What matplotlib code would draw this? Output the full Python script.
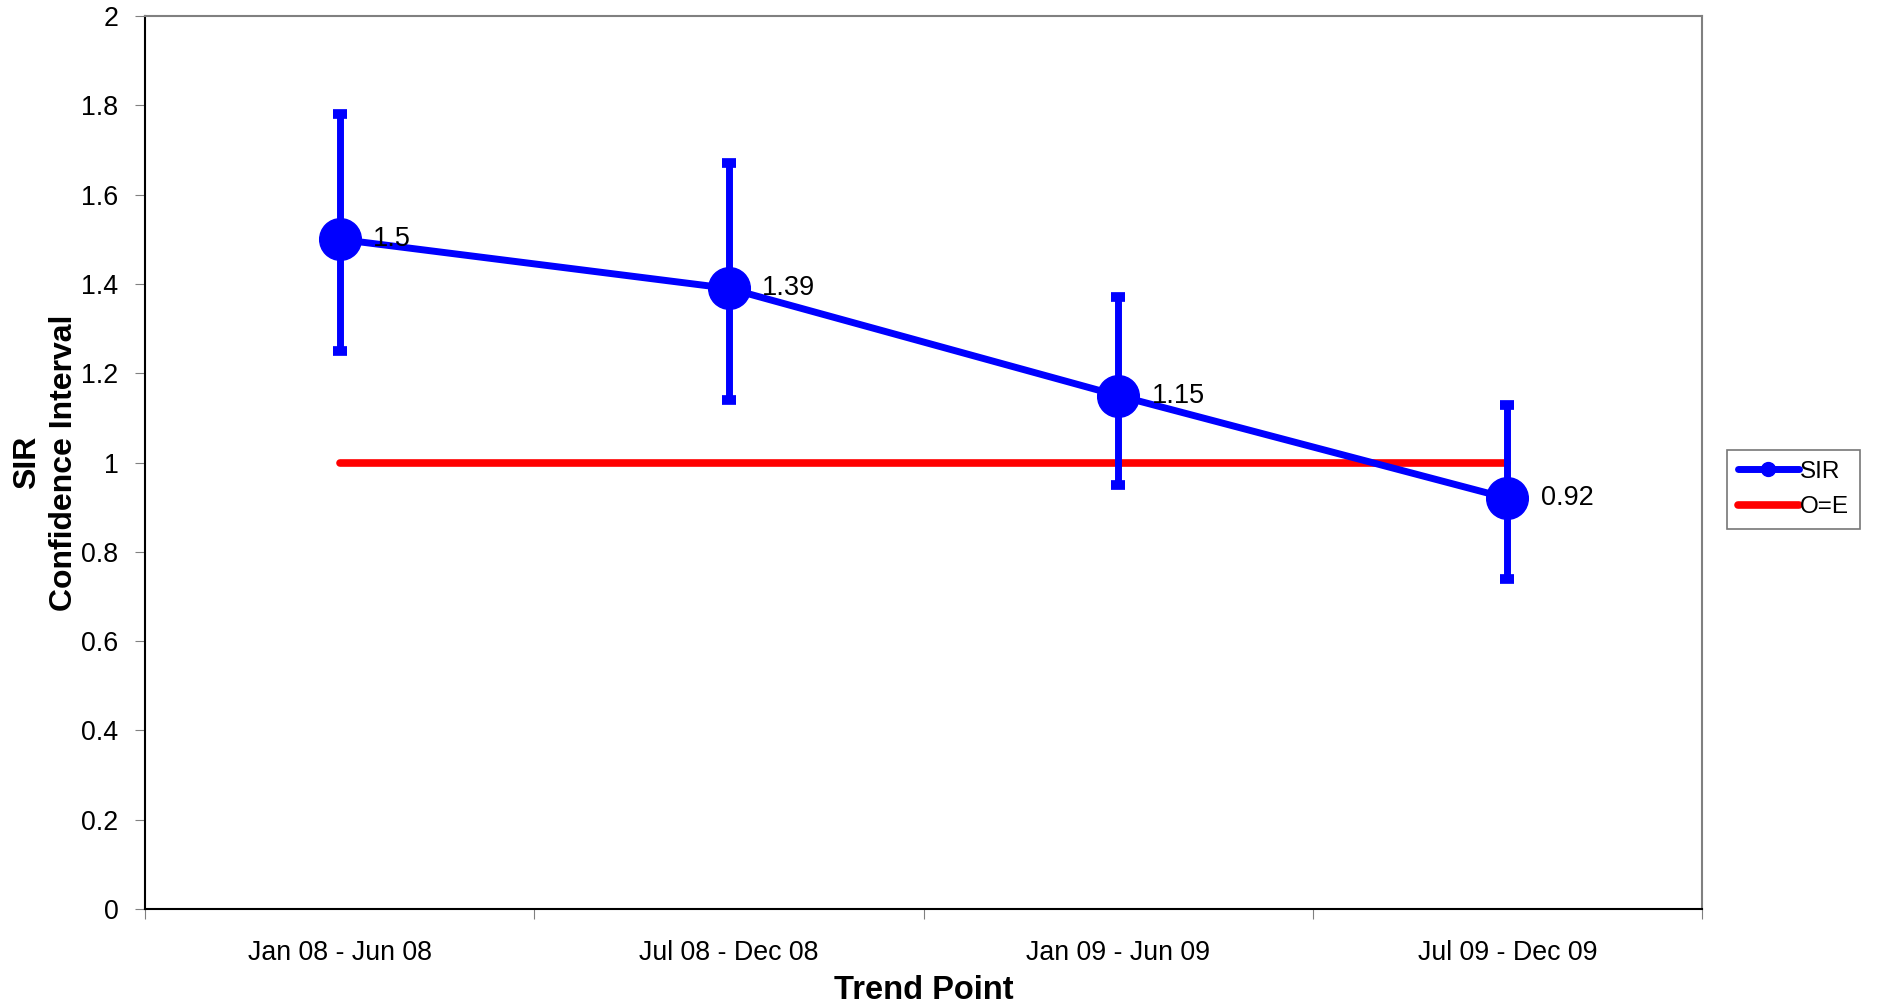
import matplotlib
matplotlib.use("Agg")
import matplotlib.pyplot as plt
from matplotlib.lines import Line2D

plt.rcParams['font.family'] = ['Liberation Sans', 'DejaVu Sans']

# data
periodos = ['Jan 08 - Jun 08', 'Jul 08 - Dec 08', 'Jan 09 - Jun 09', 'Jul 09 - Dec 09']
sir = [1.5, 1.39, 1.15, 0.92]
limite_sup = [1.78, 1.67, 1.37, 1.13]
limite_inf = [1.25, 1.14, 0.95, 0.74]
referencia = [1, 1, 1, 1]

fig = plt.figure(figsize=(18.78, 10.05), dpi=100)
ax = fig.add_axes([0.0772, 0.0955, 0.8291, 0.8885])

x = list(range(len(periodos)))
erro_inf = [s - i for s, i in zip(sir, limite_inf)]
erro_sup = [u - s for s, u in zip(sir, limite_sup)]

ax.plot(x, referencia, color='red', lw=5.5, solid_capstyle='round', zorder=2)
ax.errorbar(x, sir, yerr=[erro_inf, erro_sup], color='blue', lw=5, marker='o',
            markersize=30, ecolor='blue', elinewidth=5, capsize=5, capthick=7,
            zorder=3)

for xi, v in zip(x, sir):
    ax.annotate(f'{v:g}', (xi, v), xytext=(24, 0), textcoords='offset points',
                fontsize=19.5, va='center', ha='left', zorder=4)

ax.set_xlim(-0.5, 3.5)
ax.set_ylim(0, 2)
ax.set_yticks([0, 0.2, 0.4, 0.6, 0.8, 1, 1.2, 1.4, 1.6, 1.8, 2])
ax.set_yticklabels(['0', '0.2', '0.4', '0.6', '0.8', '1', '1.2', '1.4', '1.6', '1.8', '2'])
ax.set_xticks([-0.5, 0.5, 1.5, 2.5, 3.5])
ax.set_xticklabels([])
ax.set_xticks(x, minor=True)
ax.set_xticklabels(periodos, minor=True)
ax.tick_params(axis='x', which='minor', length=0, pad=22, labelsize=19.3)
ax.tick_params(axis='x', which='major', length=7, color='#808080', direction='out')
ax.tick_params(axis='y', length=7, labelsize=19.3, pad=12, color='#808080')

for lado in ['top', 'right']:
    ax.spines[lado].set_color('#808080')
    ax.spines[lado].set_linewidth(1.5)
for lado in ['left', 'bottom']:
    ax.spines[lado].set_color('black')
    ax.spines[lado].set_linewidth(1.5)

ax.set_xlabel('Trend Point', fontsize=23.5, fontweight='bold', labelpad=7)
ax.set_ylabel('SIR\nConfidence Interval', fontsize=23, fontweight='bold', labelpad=2,
              linespacing=1.3)

itens = [Line2D([], [], color='blue', lw=5, marker='o', markersize=10, solid_capstyle='round'),
         Line2D([], [], color='red', lw=5.5, solid_capstyle='round')]
leg = ax.legend(itens, ['SIR', 'O=E'], loc='center left', bbox_to_anchor=(1.016, 0.47),
                fontsize=17.5, frameon=True, fancybox=False, edgecolor='#555555',
                handlelength=2.5, handletextpad=0.05, borderpad=0.45, labelspacing=0.55,
                borderaxespad=0)
leg.get_frame().set_linewidth(1.2)

fig.savefig('out.png', dpi=100)
